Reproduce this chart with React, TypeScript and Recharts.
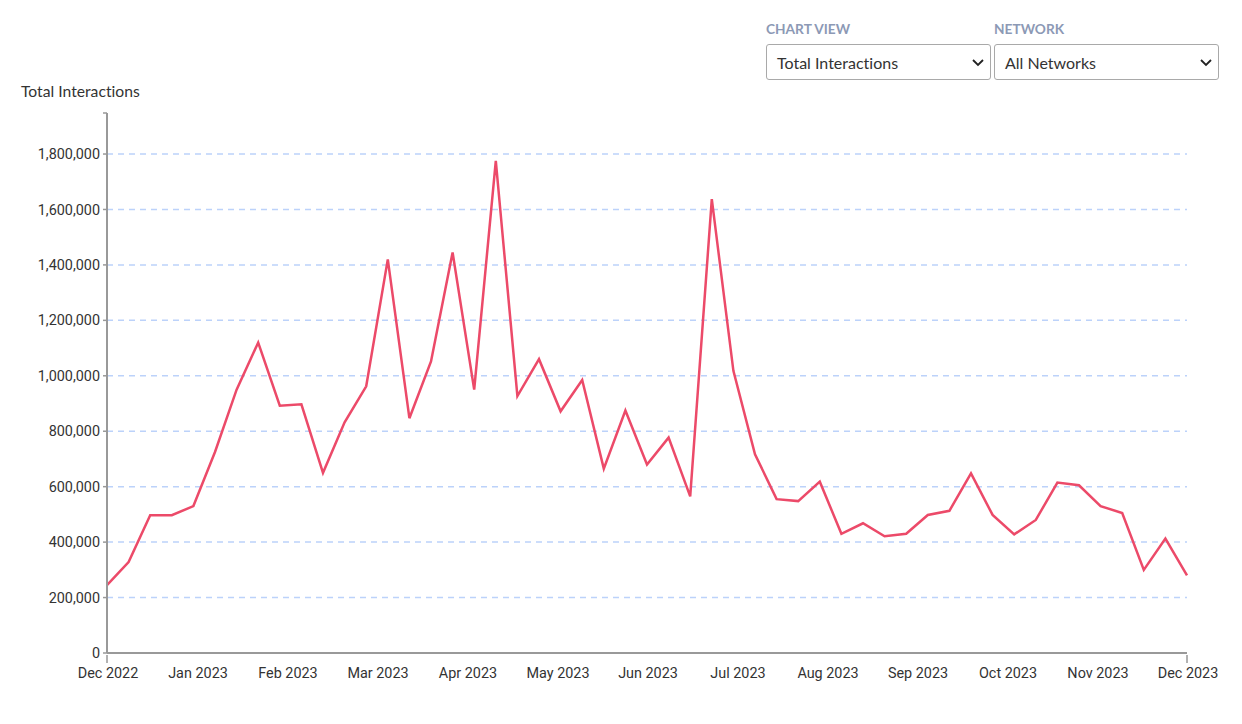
import React from 'react';
import { LineChart, Line, XAxis, YAxis, CartesianGrid } from 'recharts';

const interactions = [
  245000, 328000, 497000, 497000, 530000, 725000, 950000, 1120000, 892000, 897000,
  650000, 832000, 962000, 1420000, 847000, 1052000, 1445000, 950000, 1775000, 927000,
  1060000, 872000, 985000, 665000, 875000, 680000, 777000, 565000, 1637000, 1018000,
  717000, 555000, 548000, 618000, 430000, 468000, 421000, 430000, 498000, 513000,
  648000, 498000, 428000, 480000, 615000, 605000, 530000, 505000, 300000, 413000, 280000,
];

const monthLabels = [
  'Dec 2022', 'Jan 2023', 'Feb 2023', 'Mar 2023', 'Apr 2023', 'May 2023', 'Jun 2023',
  'Jul 2023', 'Aug 2023', 'Sep 2023', 'Oct 2023', 'Nov 2023', 'Dec 2023',
];

const gridTicks = [0, 200000, 400000, 600000, 800000, 1000000, 1200000, 1400000, 1600000, 1800000];
const yMax = 1948000;
const yTicks = [...gridTicks, yMax]; // the axis has a bare tick at its top end

const data = interactions.map((value, i) => ({ week: i, value }));

// month labels are evenly spaced along the week axis
const lastWeek = interactions.length - 1;
const monthTicks = monthLabels.map((_, i) => (i * lastWeek) / (monthLabels.length - 1));

const labelFont = 'Lato, "Open Sans", sans-serif';
const tickFont = 'Roboto, sans-serif';
const textColor = '#333';
const axisColor = '#999';

// only the two ends of the x axis get a tick mark
const MonthTick = ({ x, y, index }: any) => (
  <g>
    {(index === 0 || index === monthLabels.length - 1) && (
      <line x1={x} x2={x} y1={y} y2={y + 8} stroke={axisColor} strokeWidth={1.5} />
    )}
    <text x={x + 1} y={y + 23} textAnchor="middle" fill={textColor} fontFamily={tickFont} fontSize={14.4}>
      {monthLabels[index]}
    </text>
  </g>
);

const Picker = ({ title, value, left, width }: { title: string; value: string; left: number; width: number }) => (
  <div style={{ position: 'absolute', left, top: 20, width }}>
    <div style={{ fontFamily: labelFont, fontSize: 13.7, fontWeight: 700, color: '#8c99b5', lineHeight: '17px', marginBottom: 7 }}>
      {title}
    </div>
    <div
      style={{
        position: 'relative',
        height: 36,
        boxSizing: 'border-box',
        border: '1px solid #a9a9a9',
        borderRadius: 3,
        background: '#fff',
        fontFamily: labelFont,
        fontSize: 16,
        fontVariantLigatures: 'none',
        color: textColor,
        lineHeight: '36px',
        paddingLeft: 10,
      }}
    >
      {value}
      <svg width="12" height="8" style={{ position: 'absolute', right: 6, top: 14 }}>
        <path d="M1 1 L6 6 L11 1" fill="none" stroke="#222" strokeWidth="1.8" />
      </svg>
    </div>
  </div>
);

export default function App() {
  return (
    <div style={{ position: 'relative', width: 1242, height: 724, margin: -8, background: '#fff', overflow: 'hidden' }}>
      <Picker title="CHART VIEW" value="Total Interactions" left={766} width={225} />
      <Picker title="NETWORK" value="All Networks" left={994} width={225} />
      <div
        style={{
          position: 'absolute',
          left: 21,
          top: 82,
          fontFamily: labelFont,
          fontSize: 15.7,
          fontVariantLigatures: 'none',
          color: textColor,
          lineHeight: '18px',
        }}
      >
        Total Interactions
      </div>
      <LineChart width={1242} height={724} data={data} margin={{ top: 113, right: 55, bottom: 0, left: 0 }}>
        <CartesianGrid
          horizontal
          vertical={false}
          horizontalValues={gridTicks}
          stroke="#bcd2fa"
          strokeWidth={1.5}
          strokeDasharray="6 5"
        />
        <XAxis
          dataKey="week"
          type="number"
          domain={[0, lastWeek]}
          ticks={monthTicks}
          interval={0}
          height={71}
          stroke={axisColor}
          strokeWidth={2}
          tickLine={false}
          tickSize={0}
          tick={<MonthTick />}
        />
        <YAxis
          type="number"
          domain={[0, yMax]}
          ticks={yTicks}
          interval={0}
          width={107}
          allowDataOverflow
          stroke={axisColor}
          strokeWidth={2}
          tickLine={{ stroke: axisColor, strokeWidth: 1.5 }}
          tickSize={4}
          tickMargin={3}
          tickFormatter={(v: number) => (v === yMax ? '' : v.toLocaleString('en-US'))}
          tick={{ fill: textColor, fontFamily: tickFont, fontSize: 14.4 }}
        />
        <Line
          type="linear"
          dataKey="value"
          stroke="#ec4a69"
          strokeWidth={2.5}
          dot={false}
          isAnimationActive={false}
        />
      </LineChart>
    </div>
  );
}
